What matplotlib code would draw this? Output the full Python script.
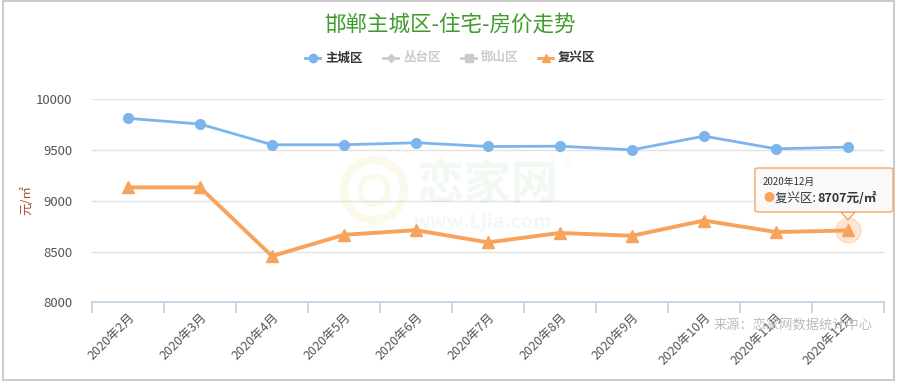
import matplotlib
matplotlib.use("Agg")
import matplotlib.pyplot as plt
from matplotlib.patches import Rectangle, FancyBboxPatch, Ellipse, Polygon
from matplotlib.lines import Line2D

plt.rcParams['font.family'] = ['Noto Sans CJK SC', 'DejaVu Sans']

months = ["2020年2月", "2020年3月", "2020年4月", "2020年5月", "2020年6月", "2020年7月",
          "2020年8月", "2020年9月", "2020年10月", "2020年11月", "2020年12月"]
main_city = [9810, 9754, 9550, 9550, 9570, 9533, 9536, 9500, 9635, 9510, 9527]
fuxing = [9131, 9131, 8455, 8665, 8710, 8590, 8683, 8655, 8805, 8692, 8707]
yticks = [8000, 8500, 9000, 9500, 10000]

W, H = 899, 389
fig = plt.figure(figsize=(W / 100, H / 100), dpi=100)
ax = fig.add_axes([92 / W, (H - 302.4) / H, 792 / W, (302.4 - 99) / H])

x = list(range(len(months)))
blue = "#7cb5ec"
orange = "#f7a35c"
ax.plot(x, main_city, color=blue, lw=2, marker="o", ms=7, zorder=3)
ax.plot(x, fuxing, color=orange, lw=2.8, marker="^", ms=8, zorder=3)

ax.set_xlim(-0.5, len(months) - 0.5)
ax.set_ylim(8000, 10000)
ax.set_yticks(yticks)
ax.set_yticklabels([str(v) for v in yticks], color="#555555", fontsize=9.5)
ax.tick_params(axis="y", length=0, pad=14)
ax.grid(axis="y", color="#e2e2e2", lw=1)
ax.set_axisbelow(True)
for s in ["top", "right", "left"]:
    ax.spines[s].set_visible(False)
ax.spines["bottom"].set_color("#c0d0e0")
ax.spines["bottom"].set_linewidth(1.2)

ax.set_xticks([i - 0.5 for i in range(len(months) + 1)], minor=False)
ax.set_xticklabels([""] * (len(months) + 1))
ax.tick_params(axis="x", which="major", length=8, color="#c0d0e0", width=1.2)
ax.set_xticks(x, minor=True)
ax.set_xticklabels(months, minor=True, rotation=45, ha="right", va="top",
                   rotation_mode="anchor", color="#555555", fontsize=9)
ax.tick_params(axis="x", which="minor", length=0, pad=6)

# Y-axis unit label
fig.text(27 / W, 1 - 200 / H, "元/㎡", color="#a0522d", fontsize=9, rotation=90,
         ha="center", va="center")

# Watermark
fig.text(487 / W, 1 - 185 / H, "恋家网", color="#4caf50", alpha=0.07, fontsize=34,
         ha="center", va="center", fontweight="bold", zorder=1, style="italic")
fig.text(483 / W, 1 - 222 / H, "www.Ljia.com", color="#4caf50", alpha=0.07, fontsize=14,
         ha="center", va="center", fontweight="bold", zorder=1)
fig.text(568 / W, 1 - 167 / H, "®", color="#4caf50", alpha=0.07, fontsize=13,
         ha="center", va="center", zorder=1)
for r, lw in [(30, 6), (14, 4)]:
    fig.patches.append(Ellipse((374 / W, 1 - 190 / H), 2 * r / W, 2 * r / H,
                               transform=fig.transFigure, facecolor="none",
                               edgecolor="#e8d87a", lw=lw, alpha=0.15, zorder=0))

# Title
fig.text(450 / W, 1 - 25 / H, "邯郸主城区-住宅-房价走势", color="#3e9d2a",
         fontsize=15.5, ha="center", va="center")

# Legend (manual)
leg_y = 1 - 58 / H
items = [("主城区", blue, "o", "#333333", 305),
         ("丛台区", "#cccccc", "D", "#cccccc", 383),
         ("邯山区", "#cccccc", "s", "#cccccc", 461),
         ("复兴区", orange, "^", "#333333", 538)]
for label, c, m, tc, x0 in items:
    fig.lines.append(Line2D([x0 / W, (x0 + 15) / W], [leg_y, leg_y], transform=fig.transFigure,
                            color=c, lw=2, marker=None))
    fig.lines.append(Line2D([(x0 + 7.5) / W], [leg_y], transform=fig.transFigure,
                            color=c, marker=m, ms=6 if m != "D" else 4.5, lw=0))
    fig.text((x0 + 20) / W, leg_y, label, color=tc, fontsize=9, va="center", ha="left",
             fontweight="bold")

# Source text
fig.text(873 / W, 1 - 325 / H, "来源：恋家网数据统计中心", color="#bbbbbb",
         fontsize=9.5, ha="right", va="center", zorder=5)

# Highlight last point
ax.plot([x[-1]], [fuxing[-1]], marker="o", ms=18, color=orange, alpha=0.25, lw=0, zorder=2)

# Tooltip
tx0, ty0, tw, th = 755, 168, 138, 44
box = FancyBboxPatch((tx0 / W, 1 - (ty0 + th) / H), tw / W, th / H,
                     boxstyle="round,pad=0,rounding_size=0.004", transform=fig.transFigure,
                     facecolor="#f9f9f9", edgecolor=orange, lw=1, alpha=0.95, zorder=10)
fig.patches.append(box)
fig.patches.append(Polygon([(841 / W, 1 - (ty0 + th) / H), (855 / W, 1 - (ty0 + th) / H),
                            (848 / W, 1 - (ty0 + th + 8) / H)], closed=True,
                           transform=fig.transFigure, facecolor="#f9f9f9",
                           edgecolor=orange, lw=1, zorder=9))
fig.text((tx0 + 8) / W, 1 - (ty0 + 14) / H, "2020年12月", fontsize=7, color="#333333",
         va="center", ha="left", zorder=11)
fig.text((tx0 + 8) / W, 1 - (ty0 + 30) / H, "●", fontsize=8, color=orange,
         va="center", ha="left", zorder=11)
fig.text((tx0 + 20) / W, 1 - (ty0 + 30) / H, "复兴区: ", fontsize=9, color="#333333",
         va="center", ha="left", zorder=11)
fig.text((tx0 + 62) / W, 1 - (ty0 + 30) / H, f"{fuxing[-1]}元/㎡", fontsize=9, color="#333333",
         va="center", ha="left", fontweight="bold", zorder=11)

# Outer frame
fig.patches.append(Rectangle((3 / W, 1 - 380 / H), 891 / W, 379 / H, transform=fig.transFigure,
                             fill=False, edgecolor="#cccccc", lw=1.5))

fig.savefig("out.png", dpi=100)
